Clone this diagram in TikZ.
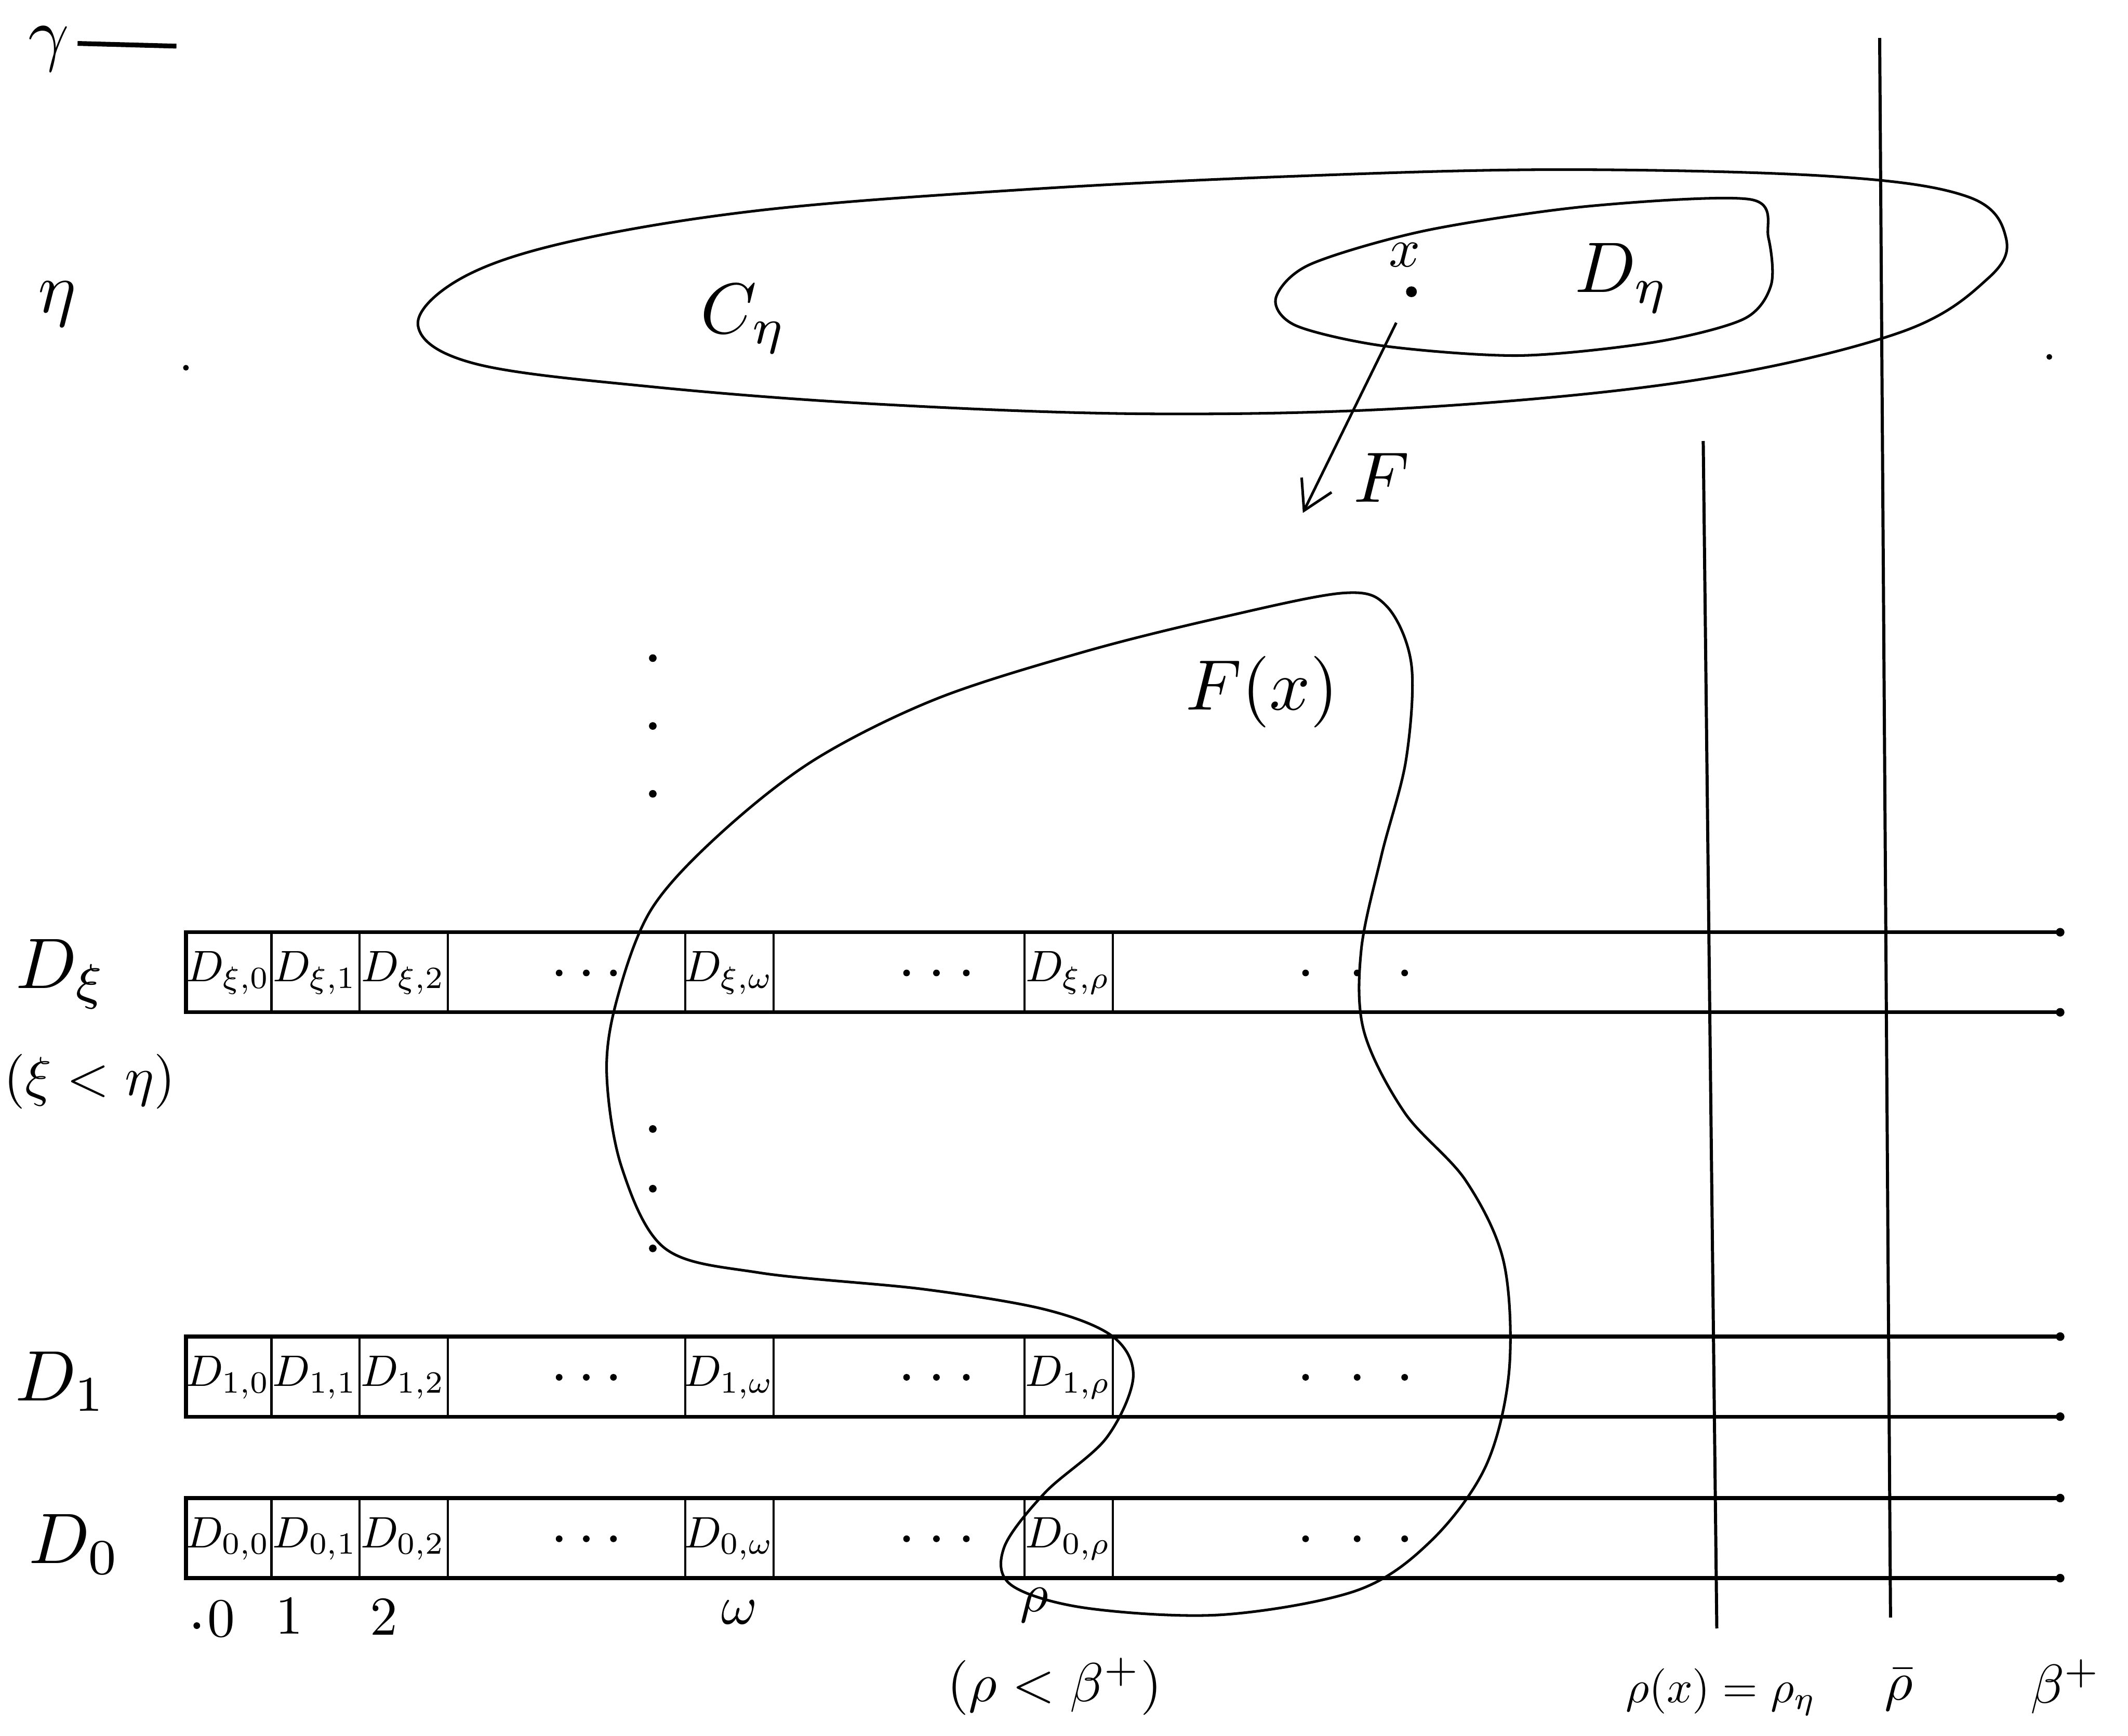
\documentclass[tikz,border=0pt]{standalone}
\usetikzlibrary{calc,arrows.meta}

\begin{document}
\begin{tikzpicture}[x=0.02cm,y=-0.02cm,
  big/.style={scale=3,inner sep=0pt},
  mid/.style={scale=2.3,inner sep=0pt},
  cell/.style={scale=1.85,inner sep=0pt},
  rowline/.style={line width=1.6pt},
  cellline/.style={line width=0.9pt},
  curve/.style={line width=1.1pt,line join=round}]
  \useasboundingbox (0,0) rectangle (1568,1279);

  \node[big] (gamma) at (36,36) {$\gamma$};
  \coordinate (gammaend) at (130,34);
  \draw[line width=2pt] ($(gamma.east)+(5,-4)$) -- (gammaend);
  \node[big] (eta) at (42,224) {$\eta$};
  \fill (137,271) circle (1.2pt);
  \fill (1510,263) circle (1.2pt);

  \draw[curve] plot[smooth cycle,tension=0.6] coordinates {(308,240) (340,205) (420,178)
    (560,155) (750,140) (950,130) (1150,125) (1350,130) (1450,145) (1478,175) (1465,205)
    (1400,245) (1250,280) (1050,300) (850,305) (650,298) (480,285) (350,268)};
  \draw[curve] plot[smooth cycle] coordinates {(940,220) (965,195) (1050,170) (1170,152)
    (1290,147) (1303,175) (1305,210) (1285,235) (1220,252) (1120,262) (1020,255) (955,240)};
  \node[big] (Ceta) at (548,235) {$C_\eta$};
  \node[big] (Deta) at (1195,205) {$D_\eta$};
  \node[mid] (xlab) at (1035,188) {$x$};
  \node[circle,fill,inner sep=1.6pt] (xpt) at (1040,215) {};
  \coordinate (Fend) at (960,378);
  \draw[curve,shorten <=12pt,-{Straight Barb[length=12pt,width=14pt]}] (xpt) -- (Fend);
  \node[big] (F) at (1018,352) {$F$};

  \draw[curve] plot[smooth cycle,tension=0.55] coordinates {(990,437) (1022,447) (1040,490)
    (1036,560) (1018,630) (1003,700) (1005,760) (1035,820) (1080,870) (1108,930) (1112,1010)
    (1095,1080) (1055,1135) (1000,1172) (900,1190) (800,1185) (745,1168) (740,1140) (770,1100)
    (815,1060) (835,1015) (820,985) (770,965) (680,950) (560,938) (490,920) (458,860)
    (447,790) (455,735) (480,670) (530,615) (600,560) (690,515) (800,480) (900,455)};
  \node[big] (Fx) at (930,510) {$F(x)$};

  \foreach \y in {485,535,585,832,876,920}
    \fill (481,\y) circle (1.6pt);

  \foreach \r/\y/\s in {xi/687/\xi, one/985/1, zero/1104/0} {
    \coordinate (\r-tl) at (137,\y);
    \coordinate (\r-tr) at (1518,\y);
    \coordinate (\r-bl) at (137,\y+59);
    \coordinate (\r-br) at (1518,\y+59);
    \draw[rowline] (\r-tr) -- (\r-tl) -- (\r-bl) -- (\r-br);
    \fill (\r-tr) circle (1.8pt);
    \fill (\r-br) circle (1.8pt);
    \foreach \a in {200,265,330,505,570,755,820}
      \draw[cellline] (\a,\y) -- (\a,\y+59);
    \foreach \a/\b/\c in {0/168/0, 1/232/1, 2/297/2, w/537/\omega, r/787/\rho}
      \node[cell] (\r-\a) at (\b,\y+30) {$D_{\s,\c}$};
    \foreach \a in {412,432,452,668,690,712,962,1000,1035}
      \fill (\a,\y+30) circle (1.4pt);
  }

  \node[big] (Dxi) at (45,718) {$D_\xi$};
  \node[mid] (xieta) at (66,797) {$(\xi<\eta)$};
  \node[big] (Done) at (45,1018) {$D_1$};
  \node[big] (Dzero) at (55,1138) {$D_0$};

  \coordinate (rx-top) at (1255,325);
  \coordinate (rx-bot) at (1265,1200);
  \coordinate (rb-top) at (1385,28);
  \coordinate (rb-bot) at (1393,1192);
  \draw[line width=1.3pt] (rx-top) -- (rx-bot);
  \draw[line width=1.3pt] (rb-top) -- (rb-bot);

  \fill (145,1198) circle (1.4pt);
  \node[mid] (lzero) at (163,1193) {$0$};
  \node[mid] (lone) at (213,1191) {$1$};
  \node[mid] (ltwo) at (283,1192) {$2$};
  \node[mid] (lomega) at (545,1188) {$\omega$};
  \node[mid] (lrho) at (762,1183) {$\rho$};
  \node[mid] (lrhob) at (777,1243) {$(\rho<\beta^+)$};
  \node[scale=1.9,inner sep=0pt] (lrhox) at (1268,1247) {$\rho(x)=\rho_\eta$};
  \node[mid] (lbar) at (1399,1245) {$\bar\rho$};
  \node[mid] (lbeta) at (1522,1243) {$\beta^+$};
\end{tikzpicture}
\end{document}
